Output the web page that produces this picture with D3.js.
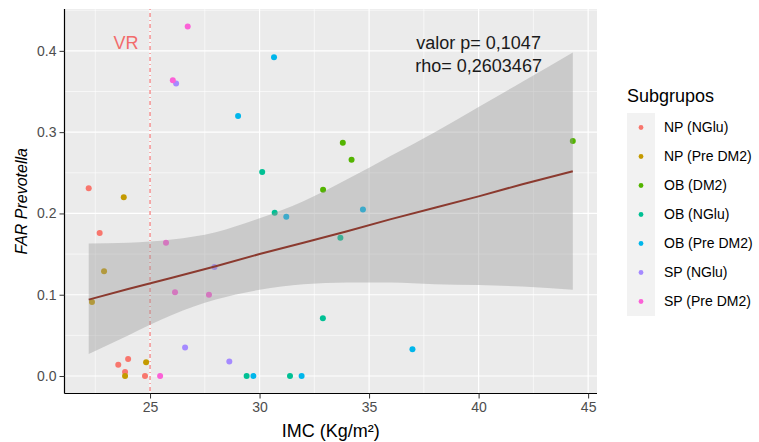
<!DOCTYPE html>
<html>
<head>
<meta charset="utf-8">
<script src="https://cdn.jsdelivr.net/npm/d3@7"></script>
<style>
  body { margin: 0; background: #fff; }
  svg { font-family: "Liberation Sans", Arial, sans-serif; }
</style>
</head>
<body>
<svg id="chart"></svg>
<script>
// subgroups and their colours (ggplot hue palette)
const subgrupos = ['NP (NGlu)', 'NP (Pre DM2)', 'OB (DM2)', 'OB (NGlu)', 'OB (Pre DM2)', 'SP (NGlu)', 'SP (Pre DM2)'];
const colores = ['#F8766D', '#C49A00', '#53B400', '#00C094', '#00B6EB', '#A58AFF', '#FB61D7'];

// points: IMC, FAR Prevotella, subgroup index
const imc = [22.2, 22.7, 23.55, 24.0, 23.86, 24.77,
             23.8, 22.9, 22.35, 24.82, 23.86,
             44.3, 33.8, 34.2, 32.9,
             30.12, 30.69, 33.69, 32.89, 29.41, 31.39,
             30.66, 29.02, 31.22, 34.72, 36.98, 29.72, 31.92,
             26.19, 27.94, 26.6, 28.62,
             26.72, 26.04, 25.73, 26.14, 27.69, 25.46];
const far = [0.231, 0.176, 0.014, 0.021, 0.005, 0.000,
             0.220, 0.129, 0.091, 0.017, 0.000,
             0.289, 0.287, 0.266, 0.229,
             0.251, 0.201, 0.170, 0.071, 0.000, 0.000,
             0.392, 0.320, 0.196, 0.205, 0.033, 0.000, 0.000,
             0.360, 0.134, 0.035, 0.018,
             0.430, 0.364, 0.164, 0.103, 0.100, 0.000];
const grupo = [0, 0, 0, 0, 0, 0,
               1, 1, 1, 1, 1,
               2, 2, 2, 2,
               3, 3, 3, 3, 3, 3,
               4, 4, 4, 4, 4, 4, 4,
               5, 5, 5, 5,
               6, 6, 6, 6, 6, 6];

// linear smooth with confidence band
const bandX    = [22.2, 24, 26, 28, 30, 32, 34, 36, 38, 40, 42, 44.3];
const bandFit  = [0.094, 0.107, 0.121, 0.135, 0.150, 0.164, 0.178, 0.193, 0.207, 0.221, 0.236, 0.252];
const bandLow  = [0.027, 0.050, 0.075, 0.094, 0.106, 0.113, 0.115, 0.115, 0.113, 0.112, 0.110, 0.106];
const bandHigh = [0.163, 0.164, 0.168, 0.177, 0.194, 0.215, 0.242, 0.271, 0.300, 0.331, 0.362, 0.398];

const xTicks = [25, 30, 35, 40, 45];
const yTicks = [0, 0.1, 0.2, 0.3, 0.4];
const xMinor = [22.5, 27.5, 32.5, 37.5, 42.5];
const yMinor = [0.05, 0.15, 0.25, 0.35, 0.45];
const vr = 25;

const W = 759, H = 442;
const panel = { left: 64.5, right: 597, top: 9, bottom: 393.5 };

const svg = d3.select('#chart').attr('width', W).attr('height', H);

// 5% expansion like ggplot
const xExt = d3.extent(imc), yExt = d3.extent(far);
const xPad = (xExt[1] - xExt[0]) * 0.05, yPad = (yExt[1] - yExt[0]) * 0.05;
const x = d3.scaleLinear().domain([xExt[0] - xPad, xExt[1] + xPad]).range([panel.left, panel.right]);
const y = d3.scaleLinear().domain([yExt[0] - yPad, yExt[1] + yPad]).range([panel.bottom, panel.top]);

svg.append('rect')
  .attr('x', panel.left).attr('y', panel.top)
  .attr('width', panel.right - panel.left).attr('height', panel.bottom - panel.top)
  .attr('fill', '#EBEBEB');

const grid = svg.append('g').attr('stroke', '#fff');
grid.selectAll('.xminor').data(xMinor).enter().append('line')
  .attr('x1', d => x(d)).attr('x2', d => x(d))
  .attr('y1', panel.top).attr('y2', panel.bottom).attr('stroke-width', 0.6);
grid.selectAll('.yminor').data(yMinor).enter().append('line')
  .attr('y1', d => y(d)).attr('y2', d => y(d))
  .attr('x1', panel.left).attr('x2', panel.right).attr('stroke-width', 0.6);
grid.selectAll('.xmajor').data(xTicks).enter().append('line')
  .attr('x1', d => x(d)).attr('x2', d => x(d))
  .attr('y1', panel.top).attr('y2', panel.bottom).attr('stroke-width', 1.2);
grid.selectAll('.ymajor').data(yTicks).enter().append('line')
  .attr('y1', d => y(d)).attr('y2', d => y(d))
  .attr('x1', panel.left).attr('x2', panel.right).attr('stroke-width', 1.2);

// reference line VR
svg.append('line')
  .attr('x1', x(vr)).attr('x2', x(vr))
  .attr('y1', panel.top).attr('y2', panel.bottom)
  .attr('stroke', '#F26B6B').attr('stroke-width', 1.1)
  .attr('stroke-dasharray', '1,3,4,3');
svg.append('text')
  .attr('x', x(23.9)).attr('y', y(0.41)).attr('dy', '0.35em')
  .attr('text-anchor', 'middle').attr('font-size', 18)
  .attr('fill', '#F26B6B').text('VR');

// points
svg.append('g').selectAll('circle')
  .data(imc.map((v, i) => ({ x: v, y: far[i], g: grupo[i] })))
  .enter().append('circle')
    .attr('cx', d => x(d.x)).attr('cy', d => y(d.y))
    .attr('r', 3).attr('fill', d => colores[d.g]);

// confidence band over points, then fitted line
const band = bandX.map((v, i) => ({ x: v, lo: bandLow[i], hi: bandHigh[i], fit: bandFit[i] }));
svg.append('path')
  .datum(band)
  .attr('d', d3.area().curve(d3.curveMonotoneX)
    .x(d => x(d.x)).y0(d => y(d.lo)).y1(d => y(d.hi)))
  .attr('fill', '#999999').attr('fill-opacity', 0.4);
svg.append('path')
  .datum(band)
  .attr('d', d3.line().x(d => x(d.x)).y(d => y(d.fit)))
  .attr('fill', 'none').attr('stroke', '#8B3A2F').attr('stroke-width', 2);

// annotation
const ann = svg.append('text')
  .attr('x', x(40)).attr('y', y(0.41)).attr('text-anchor', 'middle')
  .attr('font-size', 18).attr('fill', '#1A1A1A');
ann.append('tspan').attr('x', x(40)).attr('dy', '0.35em').text('valor p= 0,1047');
ann.append('tspan').attr('x', x(40)).attr('dy', '1.3em').text('rho= 0,2603467');

// axes
const xAxis = svg.append('g')
  .attr('transform', 'translate(0,' + panel.bottom + ')')
  .call(d3.axisBottom(x).tickValues(xTicks).tickSize(5).tickPadding(4));
const yAxis = svg.append('g')
  .attr('transform', 'translate(' + panel.left + ',0)')
  .call(d3.axisLeft(y).tickValues(yTicks).tickFormat(d3.format('.1f')).tickSize(5).tickPadding(3));
[xAxis, yAxis].forEach(a => {
  a.select('.domain').attr('stroke', '#000').attr('stroke-width', 1.2);
  a.selectAll('.tick line').attr('stroke', '#333');
  a.selectAll('.tick text').attr('fill', '#4D4D4D').attr('font-size', 14)
    .attr('font-family', '"Liberation Sans", Arial, sans-serif');
});
xAxis.select('.domain').attr('d', 'M' + panel.left + ',0H' + panel.right);
yAxis.select('.domain').attr('d', 'M0,' + panel.top + 'V' + panel.bottom);

svg.append('text')
  .attr('x', (panel.left + panel.right) / 2).attr('y', 437)
  .attr('text-anchor', 'middle').attr('font-size', 18)
  .text('IMC (Kg/m²)');
svg.append('text')
  .attr('transform', 'translate(27,' + (panel.top + panel.bottom) / 2 + ') rotate(-90)')
  .attr('text-anchor', 'middle').attr('font-size', 16).attr('font-style', 'italic')
  .text('FAR Prevotella');

// legend
const legend = svg.append('g').attr('transform', 'translate(627,0)');
legend.append('text').attr('x', 0).attr('y', 102).attr('font-size', 18).text('Subgrupos');
legend.append('rect')
  .attr('x', 0).attr('y', 113).attr('width', 28).attr('height', 29 * subgrupos.length)
  .attr('fill', '#F2F2F2');
const items = legend.selectAll('.item').data(subgrupos).enter().append('g')
  .attr('transform', (d, i) => 'translate(0,' + (127.5 + i * 29) + ')');
items.append('circle').attr('cx', 14).attr('r', 2.4).attr('fill', (d, i) => colores[i]);
items.append('text').attr('x', 37).attr('dy', '0.35em').attr('font-size', 14).text(d => d);
</script>
</body>
</html>
